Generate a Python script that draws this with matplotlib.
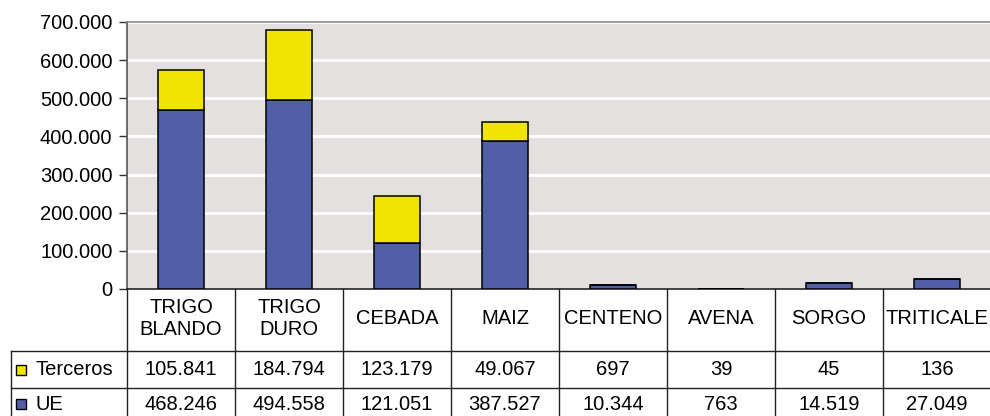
import matplotlib
matplotlib.use("Agg")
import matplotlib.pyplot as plt
from matplotlib.ticker import FixedLocator, FuncFormatter

plt.rcParams['font.family'] = ['Liberation Sans', 'DejaVu Sans']

categories = ["TRIGO\nBLANDO", "TRIGO\nDURO", "CEBADA", "MAIZ", "CENTENO", "AVENA", "SORGO", "TRITICALE"]
series_names = ["Terceros", "UE"]
terceros = [105841, 184794, 123179, 49067, 697, 39, 45, 136]
ue = [468246, 494558, 121051, 387527, 10344, 763, 14519, 27049]
yticks = [0, 100000, 200000, 300000, 400000, 500000, 600000, 700000]

BLUE = "#505FA6"
YELLOW = "#EFE500"
BG = "#E4E0DF"
FS = 14.5


def fmt(v):
    return f"{int(v):,}".replace(",", ".")


W, H = 990, 416
fig = plt.figure(figsize=(W / 100, H / 100), dpi=100)
fig.patch.set_facecolor("white")

# plot area in pixels
L, R, T, B = 127, 991, 22, 289
ax = fig.add_axes([L / W, 1 - B / H, (R - L) / W, (B - T) / H])
ax.set_facecolor(BG)

x = list(range(len(categories)))
ax.bar(x, ue, width=0.42, color=BLUE, edgecolor="black", linewidth=1.1, zorder=3)
ax.bar(x, terceros, bottom=ue, width=0.42, color=YELLOW, edgecolor="black", linewidth=1.1, zorder=3)

ax.set_xlim(-0.5, len(categories) - 0.5)
ax.set_ylim(0, 700000)
ax.yaxis.set_major_locator(FixedLocator(yticks))
ax.yaxis.set_major_formatter(FuncFormatter(lambda v, p: fmt(v)))
ax.set_xticks([])
ax.set_axisbelow(True)
ax.grid(axis="y", color="white", linewidth=2.0)
ax.tick_params(axis="y", length=6, width=1, pad=4.5, labelsize=FS, direction="out", colors="#333333", labelcolor="black")

ax.spines["right"].set_visible(False)
ax.spines["top"].set_color("#8a8a8a")
ax.spines["left"].set_color("#555555")
ax.spines["bottom"].set_color("#222222")
for s in ["top", "left", "bottom"]:
    ax.spines[s].set_linewidth(1.2)

# ---- data table drawn below the axis ----
tr = ax.get_xaxis_transform()
colw = (R - L) / len(categories)


def yf(py):
    return (B - py) / (B - T)


def xd(px):
    return -0.5 + (px - L) / colw


row_hdr_bot = 351
row1_bot = 388
row2_bot = 421
table_left = 11
lc = "#222222"
lw = 1.0

# vertical lines
for i in range(len(categories) + 1):
    ax.plot([i - 0.5, i - 0.5], [yf(B), yf(row2_bot + 10)], transform=tr, color=lc, lw=lw, clip_on=False)
ax.plot([xd(table_left)] * 2, [yf(row_hdr_bot), yf(row2_bot + 10)], transform=tr, color=lc, lw=lw, clip_on=False)
# horizontal lines
for py in [row_hdr_bot, row1_bot]:
    ax.plot([xd(table_left), len(categories) - 0.5], [yf(py)] * 2, transform=tr, color=lc, lw=lw, clip_on=False)

# header labels
for i, c in enumerate(categories):
    ax.text(i, yf(318.5), c, transform=tr, ha="center", va="center", fontsize=FS,
            linespacing=1.25, clip_on=False)

# rows
rows = [(series_names[0], terceros, YELLOW, (row_hdr_bot + row1_bot) / 2),
        (series_names[1], ue, BLUE, 404)]
for name, vals, col, cy in rows:
    ax.plot([xd(21)], [yf(cy)], transform=tr, marker="s", markersize=7.2,
            markerfacecolor=col, markeredgecolor="black", markeredgewidth=1.0, clip_on=False)
    ax.text(xd(35), yf(cy), name, transform=tr, ha="left", va="center", fontsize=FS, clip_on=False)
    for i, v in enumerate(vals):
        ax.text(i, yf(cy), fmt(v), transform=tr, ha="center", va="center", fontsize=FS, clip_on=False)

fig.savefig("out.png", dpi=100)
